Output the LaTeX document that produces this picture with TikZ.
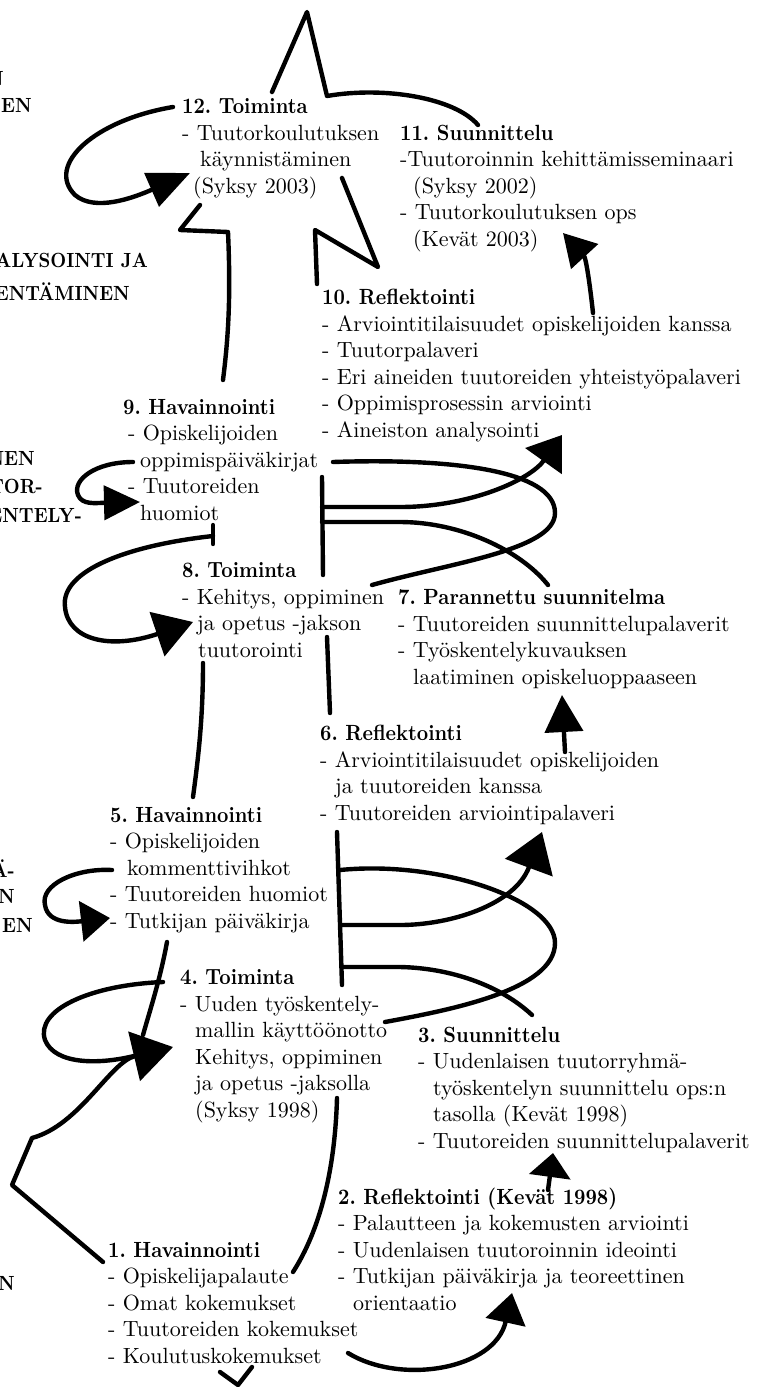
\documentclass[tikz,border=0pt]{standalone}
\usepackage{fontspec}
\setmainfont{lmroman10-regular.otf}[BoldFont=lmroman10-bold.otf, BoldFeatures={FakeStretch=0.9}]
\usetikzlibrary{arrows.meta}
\tikzset{
  txt/.style={anchor=base west, inner sep=0pt, align=left, font=\fontsize{22}{26.5}\selectfont\frenchspacing},
  cutlbl/.style={anchor=base east, inner sep=0pt, font=\fontsize{20.5}{26.5}\selectfont\bfseries},
  conn/.style={line width=4.4pt, line cap=round, line join=round},
}
\begin{document}
\begin{tikzpicture}[x=1pt,y=-1pt]
\useasboundingbox[fill=white] (0,0) rectangle (756,1387);

% cut-off labels on the left edge
\node[cutlbl] (k1) at (4,85) {N};
\node[cutlbl] (k2) at (32,112) {EN};
\node[cutlbl] (k3) at (148,267) {ALYSOINTI JA};
\node[cutlbl] (k4) at (130,300) {ENTÄMINEN};
\node[cutlbl] (k5) at (35,465) {NEN};
\node[cutlbl] (k6) at (43,493) {TOR-};
\node[cutlbl] (k7) at (82,522) {ENTELY-};
\node[cutlbl] (k8) at (15,877) {Ä-};
\node[cutlbl] (k9) at (15,903) {N};
\node[cutlbl] (k10) at (33,932) {EN};
\node[cutlbl] (k11) at (15,1290) {N};

% text blocks (anchored at the baseline of their last line)
\node[txt] (n12) at (182,193) {\textbf{12. Toiminta}\\- Tuutorkoulutuksen\\\hspace*{18pt}käynnistäminen\\\hspace*{11pt}(Syksy 2003)};
\node[txt] (n11) at (400,246) {\textbf{11. Suunnittelu}\\-Tuutoroinnin kehittämisseminaari\\\hspace*{13pt}(Syksy 2002)\\- Tuutorkoulutuksen ops\\\hspace*{13pt}(Kevät 2003)};
\node[txt] (n10) at (322,437) {\textbf{10. Reflektointi}\\- Arviointitilaisuudet opiskelijoiden kanssa\\- Tuutorpalaveri\\- Eri aineiden tuutoreiden yhteistyöpalaveri\\- Oppimisprosessin arviointi\\- Aineiston analysointi};
\node[txt] (n9) at (123,520) {\textbf{9. Havainnointi}\\\hspace*{5pt}- Opiskelijoiden\\\hspace*{17pt}oppimispäiväkirjat\\\hspace*{5pt}- Tuutoreiden\\\hspace*{17pt}huomiot};
\node[txt] (n8) at (182,657) {\textbf{8. Toiminta}\\- Kehitys, oppiminen\\\hspace*{15pt}ja opetus -jakson\\\hspace*{16pt}tuutorointi};
\node[txt] (n7) at (398,684) {\textbf{7. Parannettu suunnitelma}\\- Tuutoreiden suunnittelupalaverit\\- Työskentelykuvauksen\\\hspace*{15pt}laatiminen opiskeluoppaaseen};
\node[txt] (n6) at (320,820) {\textbf{6. Reflektointi}\\- Arviointitilaisuudet opiskelijoiden\\\hspace*{15pt}ja tuutoreiden kanssa\\- Tuutoreiden arviointipalaveri};
\node[txt] (n5) at (110,928) {\textbf{5. Havainnointi}\\- Opiskelijoiden\\\hspace*{17pt}kommenttivihkot\\- Tuutoreiden huomiot\\- Tutkijan päiväkirja};
\node[txt] (n4) at (180,1117) {\textbf{4. Toiminta}\\- Uuden työskentely-\\\hspace*{15pt}mallin käyttöönotto\\\hspace*{15pt}Kehitys, oppiminen\\\hspace*{15pt}ja opetus -jaksolla\\\hspace*{15pt}(Syksy 1998)};
\node[txt] (n3) at (418,1148) {\textbf{3. Suunnittelu}\\- Uudenlaisen tuutorryhmä-\\\hspace*{15pt}työskentelyn suunnittelu ops:n\\\hspace*{15pt}tasolla (Kevät 1998)\\- Tuutoreiden suunnittelupalaverit};
\node[txt] (n2) at (338,1310) {\textbf{2. Reflektointi (Kevät 1998)}\\- Palautteen ja kokemusten arviointi\\- Uudenlaisen tuutoroinnin ideointi\\- Tutkijan päiväkirja ja teoreettinen\\\hspace*{15pt}orientaatio};
\node[txt] (n1) at (108,1363) {\textbf{1. Havainnointi}\\- Opiskelijapalaute\\- Omat kokemukset\\- Tuutoreiden kokemukset\\- Koulutuskokemukset};

% star around 12
\coordinate (st1) at (272,92);
\coordinate (st2) at (478,125);
\draw[conn] (st1) -- (307,12) -- (327,96) .. controls (385,86) and (455,98) .. (st2);
\coordinate (st3) at (200,205);
\coordinate (st4) at (223,380);
\draw[conn] (st3) -- (180,230) -- (228,232) .. controls (231,300) and (228,340) .. (st4);
\coordinate (st5) at (342,178);
\coordinate (st6) at (317,284);
\draw[conn] (st5) -- (378,267) -- (315,230) -- (st6);

% loop at 12
\coordinate (l12s) at (173,107);
\coordinate (l12e) at (190,173);
\draw[conn,-{Triangle[length=42pt,width=36pt]}] (l12s) .. controls (95,120) and (45,165) .. (75,195) .. controls (95,212) and (133,198) .. (l12e);

% arrow 10 -> 11
\coordinate (a11s) at (593,313);
\coordinate (a11e) at (563,233);
\draw[conn,-{Triangle[length=32pt,width=36pt]}] (a11s) .. controls (590,285) and (586,258) .. (a11e);

% crossing between 9/10 and 7/8
\coordinate (b1t) at (322,477);
\coordinate (b1b) at (323,575);
\coordinate (b1u) at (322,507);
\coordinate (b1l) at (322,522);
\draw[conn] (b1t) -- (b1b);
\coordinate (a10e) at (562,435);
\draw[conn,-{Triangle[length=32pt,width=44pt]}] (b1u) -- (400,507) .. controls (470,507) and (530,480) .. (a10e);
\coordinate (a7e) at (548,585);
\draw[conn] (b1l) -- (400,522) .. controls (460,522) and (520,550) .. (a7e);
\coordinate (c9s) at (333,462);
\coordinate (c8e) at (372,585);
\draw[conn] (c9s) .. controls (450,458) and (555,470) .. (555,513) .. controls (555,550) and (450,563) .. (c8e);

% loop at 9
\coordinate (l9s) at (133,462);
\coordinate (l9e) at (140,502);
\draw[conn,-{Triangle[length=36pt,width=34pt]}] (l9s) .. controls (95,462) and (72,480) .. (78,495) .. controls (82,505) and (95,503) .. (l9e);

% loop at 8
\coordinate (t8a) at (213,525);
\coordinate (t8b) at (213,544);
\draw[conn] (t8a) -- (t8b);
\coordinate (l8s) at (213,536);
\coordinate (l8e) at (193,622);
\draw[conn,-{Triangle[length=38pt,width=46pt]}] (l8s) .. controls (130,545) and (60,570) .. (65,607) .. controls (68,640) and (110,650) .. (l8e);

% vertical links
\coordinate (v8s) at (203,663);
\coordinate (v5e) at (193,797);
\draw[conn] (v8s) .. controls (203,720) and (198,760) .. (v5e);
\coordinate (v6s) at (327,637);
\coordinate (v6e) at (330,713);
\draw[conn] (v6s) -- (v6e);

% arrow 6 -> 7
\coordinate (a7s) at (565,752);
\coordinate (a7t) at (562,695);
\draw[conn,-{Triangle[length=37pt,width=38pt]}] (a7s) -- (a7t);

% crossing between 5/6 and 3/4
\coordinate (b2t) at (337,832);
\coordinate (b2b) at (342,985);
\coordinate (b2u) at (340,870);
\coordinate (b2m) at (341,925);
\coordinate (b2l) at (342,967);
\draw[conn] (b2t) -- (b2b);
\coordinate (c4e) at (385,1022);
\draw[conn] (b2u) .. controls (440,860) and (555,900) .. (555,943) .. controls (555,990) and (450,1010) .. (c4e);
\coordinate (a6e) at (542,832);
\draw[conn,-{Triangle[length=38pt,width=50pt]}] (b2m) -- (400,925) .. controls (450,925) and (515,905) .. (a6e);
\coordinate (a3e) at (532,1015);
\draw[conn] (b2l) -- (400,967) .. controls (450,968) and (500,985) .. (a3e);

% loop at 5
\coordinate (l5s) at (112,870);
\coordinate (l5e) at (110,918);
\draw[conn,-{Triangle[length=29pt,width=40pt]}] (l5s) .. controls (75,868) and (40,885) .. (45,905) .. controls (48,925) and (75,922) .. (l5e);

% line 5 -> 4 and loop at 4
\coordinate (v5s) at (167,942);
\coordinate (v4e) at (143,1035);
\draw[conn] (v5s) .. controls (160,980) and (150,1010) .. (v4e);
\coordinate (l4s) at (163,982);
\coordinate (l4e) at (138,1055);
\draw[conn] (l4s) .. controls (90,985) and (35,1010) .. (45,1040) .. controls (55,1065) and (100,1065) .. (l4e);

% 1 -> 4
\coordinate (a14s) at (103,1262);
\coordinate (a14e) at (173,1047);
\draw[conn,-{Triangle[length=40pt,width=50pt]}] (a14s) -- (12,1185) -- (32,1138) .. controls (80,1125) and (110,1062) .. (a14e);

% 4 -> 1
\coordinate (v41s) at (337,1098);
\coordinate (v41e) at (293,1272);
\draw[conn] (v41s) .. controls (335,1170) and (320,1230) .. (v41e);

% 2 -> 3
\coordinate (a23s) at (548,1190);
\coordinate (a23e) at (553,1153);
\draw[conn,-{Triangle[length=24pt,width=41pt]}] (a23s) -- (a23e);

% 1 -> 2
\coordinate (a12s) at (348,1353);
\coordinate (a12e) at (512,1293);
\draw[conn,-{Triangle[length=30pt,width=40pt]}] (a12s) .. controls (400,1385) and (495,1370) .. (a12e);

% small mark at the bottom
\coordinate (vm1) at (220,1372);
\coordinate (vm2) at (252,1367);
\draw[conn] (vm1) -- (238,1385) -- (vm2);
\end{tikzpicture}
\end{document}
